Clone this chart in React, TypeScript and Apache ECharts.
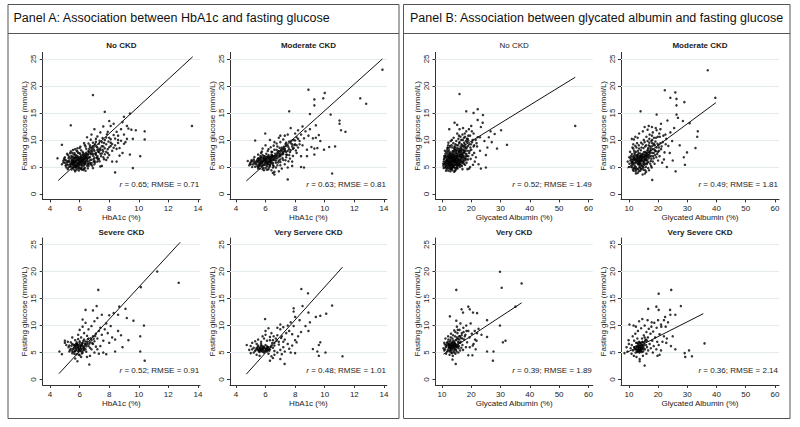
import React, { useEffect, useRef } from 'react';
import * as echarts from 'echarts';

// ---------- DATA ----------
const subTitles = ['No CKD', 'Moderate CKD', 'Severe CKD', 'Very Servere CKD', 'No CKD', 'Moderate CKD', 'Very CKD', 'Very Severe CKD'];
const rValues = ['0.65', '0.63', '0.52', '0.48', '0.52', '0.49', '0.39', '0.36'];
const rmseValues = ['0.71', '0.81', '0.91', '1.01', '1.49', '1.81', '1.89', '2.14'];
const panelTitles = ['Panel A: Association between HbA1c and fasting glucose', 'Panel B: Association between glycated albumin and fasting glucose'];
const hbTicks = [4, 6, 8, 10, 12, 14];
const gaTicks = [10, 20, 30, 40, 50, 60];
const fgTicks = [0, 5, 10, 15, 20, 25];
const gridYs = [5, 10, 15, 20, 25];
const xNames = ['HbA1c (%)', 'Glycated Albumin (%)'];
const yName = 'Fasting glucose (mmol/L)';

const hbNoCkd: number[][] = [
  [5.4,5.2],[5.5,5.6],[5.6,6.0],[5.7,5.4],[5.8,6.3],[5.9,5.8],[6.0,6.1],[6.1,5.5],[6.2,6.6],[6.3,6.0],[5.5,6.4],[5.6,5.1],[5.7,6.7],[5.8,5.0],[5.9,6.9],[6.0,5.3],[6.1,7.0],[6.2,5.7],[6.3,6.8],[6.4,6.2],
  [5.3,5.9],[5.4,6.6],[5.5,4.9],[5.6,6.8],[5.7,5.9],[5.8,7.1],[5.9,5.2],[6.0,6.7],[6.1,6.3],[6.2,5.1],[6.3,7.3],[6.4,5.6],[6.5,6.9],[6.5,6.4],[6.6,7.4],[5.2,5.4],[5.1,6.2],[5.3,6.9],[5.6,7.3],[5.9,7.6],
  [6.0,4.7],[6.2,7.8],[6.4,7.0],[6.6,6.0],[6.7,7.7],[5.0,5.8],[5.2,4.6],[5.8,4.5],[6.1,4.9],[6.3,5.3],[5.65,5.75],[5.85,5.65],[6.05,5.9],[5.75,6.15],[5.95,6.45],[6.15,6.05],[5.55,6.1],[6.25,6.3],[5.45,5.8],[6.35,6.55],
  [6.6,8.0],[6.7,6.8],[6.8,7.5],[6.8,8.4],[6.9,7.1],[7.0,8.0],[7.0,9.0],[7.1,7.6],[7.2,8.6],[7.2,7.0],[7.3,9.3],[7.4,8.1],[7.5,9.6],[7.5,7.5],[7.6,8.8],[7.7,10.0],[7.8,9.2],[7.9,8.3],[8.0,10.4],[8.1,9.5],
  [6.9,9.5],[7.1,10.2],[6.7,9.0],[7.3,6.5],[7.6,6.8],[8.2,8.0],[8.3,10.9],[8.4,9.0],[8.5,11.5],[8.6,10.0],[8.8,12.0],[8.7,8.5],[9.0,11.0],[9.1,9.6],[8.9,7.6],[7.0,12.0],[7.4,11.4],[6.8,11.0],[6.5,10.5],[6.4,8.8],
  [6.3,9.4],[6.0,8.5],[5.8,8.0],[5.5,7.6],[5.2,7.2],[5.0,6.8],[4.9,6.2],[4.8,5.5],[5.1,4.9],[6.6,5.2],[6.8,5.7],[7.0,5.5],[7.2,6.0],[7.5,5.2],[6.9,4.8],[6.4,4.3],[5.7,4.2],[7.8,6.3],[8.0,7.2],[8.2,6.0],
  [6.9,18.3],[7.7,15.2],[5.4,12.7],[13.6,12.6],[9.4,14.9],[9.0,14.3],[10.4,11.6],[10.4,10.1],[10.1,7.0],[9.6,4.8],[8.4,4.0],[4.8,9.1],[4.5,6.6],[7.4,5.1],[8.1,12.6],[9.2,12.6],[9.5,11.9],[9.6,10.2],[9.2,10.2],[8.6,10.8],
  [8.9,13.3],[9.0,9.3],[8.7,7.1],[9.4,7.3],[8.5,6.0],[8.3,13.0],[9.3,12.1],[9.8,11.8],[8.0,13.5],[7.6,12.5],[7.9,11.5]
];
const hbNoCkdCore: number[][] = [
  [5.35,5.45],[5.45,6.05],[5.55,5.35],[5.65,6.45],[5.75,5.25],[5.85,6.75],[5.95,5.55],[6.05,6.85],[6.15,5.35],[6.25,7.05],[6.35,5.75],[6.45,6.65],[6.55,7.25],[6.65,6.85],[6.75,7.35],[6.85,7.85],[6.95,8.25],[7.05,7.45],[7.15,8.75],[7.25,7.85],
  [5.5,5.75],[5.6,6.55],[5.7,5.05],[5.8,5.75],[5.9,6.15],[6.0,5.65],[6.1,6.55],[6.2,6.25],[6.3,6.45],[6.4,6.85],[6.5,6.05],[6.6,6.65],[6.7,6.25],[6.8,8.05],[6.9,7.45],[7.0,6.75],[7.1,7.25],[7.2,8.15],[7.3,7.75],[7.4,8.45],
  [5.25,6.65],[5.35,5.05],[5.45,7.05],[5.55,4.75],[5.65,7.55],[5.75,4.85],[5.85,7.85],[5.95,4.95],[6.05,7.35],[6.15,4.55],[6.25,7.55],[6.35,4.85],[6.45,7.65],[6.55,5.65],[6.65,8.35],[6.75,5.45],[6.85,8.65],[6.95,6.45],[7.05,9.25],[7.15,6.65],
  [5.15,5.85],[5.05,5.25],[4.95,6.55],[5.15,7.45],[5.4,7.9],[5.7,8.3],[6.1,8.1],[6.45,8.35],[6.7,8.7],[7.35,9.85],[7.55,8.15],[7.65,9.45],[7.8,7.8],[7.95,9.7],[8.1,8.9],[7.45,7.0],[7.7,7.35],[7.25,6.4],[6.95,5.95],[6.6,5.5],
  [5.6,5.5],[5.7,6.1],[5.8,5.3],[5.9,6.4],[6.0,5.95],[6.1,5.85],[6.2,6.45],[6.3,5.55],[6.4,5.95],[6.5,6.6],[5.5,6.2],[5.6,5.7],[5.9,5.45],[6.2,5.9],[6.35,7.0],[6.05,6.35],[5.75,6.9],[5.65,5.95],[6.15,6.75],[6.45,7.2],
  [5.3,6.25],[5.4,5.55],[5.5,6.85],[5.6,4.95],[5.7,7.25],[5.8,6.55],[5.9,4.75],[6.0,7.55],[6.1,4.65],[6.2,7.25],[6.3,4.65],[6.4,7.45],[6.5,5.25],[6.6,7.85],[6.7,5.75],[6.8,6.35],[6.9,8.85],[7.0,6.15],[7.1,9.65],[7.2,6.75],
  [7.3,8.25],[7.4,7.45],[7.5,8.85],[7.6,7.85],[7.7,8.45],[7.8,10.45],[7.9,7.55],[8.0,8.65],[8.1,10.15],[8.2,9.25],[8.3,8.55],[8.4,10.25],[8.5,8.35],[8.6,9.45],[8.8,9.85],[5.2,6.05],[5.1,5.45],[5.0,6.35],[4.9,5.85],[5.25,4.95],
  [5.45,4.55],[5.65,4.45],[5.95,4.35],[6.25,4.45],[6.55,4.75],[6.85,5.25],[7.05,5.85],[7.35,6.05],[7.65,6.45],[7.9,6.75],[6.05,8.75],[6.35,9.05],[6.6,9.35],[5.85,8.45],[5.55,8.15],[5.35,7.55],[6.75,10.05],[7.2,10.65],[7.55,10.35],[7.85,11.05]
];

const hbModerate: number[][] = [
  [5.5,5.9],[5.6,6.3],[5.7,5.6],[5.8,6.0],[5.9,6.6],[6.0,5.8],[6.1,6.2],[6.2,5.5],[6.3,6.9],[6.4,6.1],[5.6,5.2],[5.7,6.8],[5.8,5.4],[5.9,7.0],[6.0,6.4],[6.1,5.1],[6.2,7.2],[6.3,5.9],[6.4,6.6],[6.5,7.0],
  [5.4,6.1],[5.3,5.6],[5.2,6.4],[5.1,5.0],[5.0,5.9],[4.9,5.3],[4.8,6.1],[5.5,7.3],[5.7,7.6],[6.0,4.8],[6.2,4.6],[5.9,4.4],[6.5,5.4],[6.6,6.3],[6.7,7.1],[6.8,6.6],[6.9,7.5],[7.0,7.0],[7.1,8.0],[7.2,7.4],
  [7.3,8.4],[7.4,7.8],[7.5,9.0],[7.6,8.3],[7.7,9.4],[7.8,8.8],[7.9,10.0],[8.0,9.2],[8.1,10.5],[8.2,8.6],[6.6,8.2],[6.8,8.8],[7.0,9.6],[7.2,10.1],[6.4,7.8],[6.2,8.3],[6.0,9.0],[5.8,8.4],[6.5,4.9],[6.8,5.3],
  [7.0,5.9],[7.2,6.3],[7.4,6.8],[7.6,7.2],[7.8,6.0],[7.1,4.7],[6.9,4.2],[6.5,3.9],[6.6,4.1],[7.3,5.5],[7.5,4.9],[7.8,5.2],[8.3,9.8],[8.4,11.0],[8.5,9.0],[8.6,10.3],[8.7,11.6],[8.8,8.2],[8.9,10.8],[9.0,12.0],
  [8.2,11.8],[8.0,11.2],[7.7,12.2],[7.5,11.0],[7.3,10.8],[6.9,10.4],[6.6,9.6],[6.3,10.0],[5.98,11.2],[5.3,9.9],[7.0,6.4],[6.7,5.8],[6.3,5.2],[5.6,4.7],[5.5,5.0],[6.1,6.9],[5.8,7.2],[6.4,7.3],[6.9,6.2],[7.4,9.5],
  [8.1,7.6],[8.4,7.0],[5.65,5.7],[5.85,6.15],[6.05,6.0],[5.75,5.95],[5.95,6.25],[6.15,5.85],[6.25,6.45],[6.35,6.2],[5.55,6.55],[6.45,6.85],
  [13.9,23.0],[8.9,19.3],[10.0,18.7],[9.3,17.5],[9.9,17.7],[9.3,16.4],[12.4,17.7],[12.8,16.7],[7.6,15.3],[9.0,14.8],[10.4,14.7],[11.0,13.6],[11.0,13.0],[11.1,11.8],[11.4,11.5],[9.4,12.7],[9.4,10.4],[9.2,10.3],[9.1,8.7],[9.3,8.4],
  [9.5,8.5],[10.3,8.7],[10.7,8.8],[9.95,8.2],[9.3,7.3],[8.8,7.0],[8.4,5.0],[10.5,3.8],[7.5,2.7],[6.6,3.6],[8.6,4.9],[9.7,9.8],[8.5,12.5],[9.6,10.9]
];
const hbModerateCore: number[][] = [
  [5.35,5.85],[5.45,6.35],[5.55,5.45],[5.65,6.65],[5.75,5.15],[5.85,6.45],[5.95,5.65],[6.05,6.75],[6.15,5.55],[6.25,6.25],[6.35,5.65],[6.45,7.15],[6.55,6.55],[6.65,7.45],[6.75,6.95],[6.85,7.85],[6.95,7.15],[7.05,8.25],[7.15,7.55],[7.25,8.75],
  [5.5,6.1],[5.6,5.6],[5.7,6.4],[5.8,5.8],[5.9,6.2],[6.0,6.0],[6.1,6.5],[6.2,5.9],[6.3,6.6],[6.4,5.8],[6.5,6.3],[6.6,7.0],[6.7,6.6],[6.8,7.2],[6.9,6.9],[7.0,7.8],[7.1,7.3],[7.2,8.3],[7.3,7.9],[7.4,8.9],
  [5.25,6.05],[5.15,5.45],[5.05,6.25],[4.95,5.65],[5.25,6.85],[5.45,5.15],[5.65,7.05],[5.85,4.85],[6.05,7.45],[6.25,4.95],[6.45,7.75],[6.55,5.15],[6.75,8.15],[6.85,5.85],[6.95,8.55],[7.15,6.65],[7.35,9.25],[7.45,7.25],[7.55,8.65],[7.65,7.75],
  [7.75,9.85],[7.85,8.35],[7.95,9.05],[8.05,8.05],[7.35,6.25],[7.55,6.05],[7.65,6.55],[7.85,7.05],[5.75,7.85],[6.15,7.95],[6.35,8.65],[6.55,8.95],[6.75,9.35],[7.0,10.8],[6.2,6.9],[5.95,6.95],[6.05,5.35],[5.6,6.0],[6.3,6.1],[6.4,6.4],
  [5.4,5.5],[5.5,6.6],[5.6,5.25],[5.7,6.05],[5.8,6.75],[5.9,5.35],[6.0,6.5],[6.1,5.75],[6.2,6.7],[6.3,5.4],[6.4,6.95],[6.5,5.75],[6.6,6.75],[6.7,6.2],[6.8,7.6],[6.9,7.95],[7.0,7.35],[7.1,8.6],[7.2,7.8],[7.3,8.15],
  [7.4,7.3],[7.5,8.0],[7.6,9.7],[7.7,8.1],[7.8,9.2],[7.9,8.5],[8.0,9.9],[8.1,9.0],[8.2,10.2],[8.3,9.2],[5.2,5.8],[5.1,6.1],[5.0,5.5],[5.3,5.05],[5.5,4.7],[5.8,4.6],[6.1,4.5],[6.4,4.4],[6.7,4.9],[7.0,5.3]
];

const hbSevere: number[][] = [
  [5.6,5.8],[5.7,6.2],[5.8,5.5],[5.9,6.0],[6.0,6.5],[6.1,5.7],[6.2,6.8],[6.3,6.1],[5.5,6.6],[5.6,5.1],[5.7,5.4],[5.8,6.9],[5.9,5.2],[6.0,7.1],[6.1,6.3],[6.2,5.4],[6.3,7.4],[6.4,6.5],[6.5,7.0],[6.6,6.2],
  [5.4,5.7],[5.3,6.3],[5.2,7.0],[5.1,6.4],[5.0,7.2],[5.0,6.8],[5.3,5.2],[5.5,4.9],[5.8,4.7],[6.0,4.5],[6.2,5.0],[6.4,5.6],[6.6,7.6],[6.7,6.9],[6.8,7.3],[6.9,8.0],[7.0,7.1],[7.1,8.5],[7.2,7.6],[7.3,9.0],
  [6.5,8.1],[6.3,8.6],[6.1,7.8],[5.9,7.5],[5.7,7.3],[6.0,9.2],[6.2,9.8],[6.4,10.5],[6.2,11.1],[6.6,9.3],[6.8,9.9],[7.0,10.8],[7.2,11.4],[7.4,9.6],[7.5,8.3],[7.6,7.2],[7.7,9.3],[7.8,10.4],[7.9,8.6],[8.0,11.9],
  [8.1,9.9],[8.2,7.8],[8.3,12.3],[7.4,6.2],[7.2,5.6],[7.0,5.0],[6.8,5.6],[7.6,5.0],[7.8,4.7],[8.0,6.8],[8.4,7.4],[8.6,9.0],[7.5,12.0],[6.9,12.8],[6.7,4.4],[6.5,4.2],[5.7,3.9],[6.1,4.2],[7.3,4.8],[5.9,8.3],
  [5.5,7.8],[6.9,6.6],[7.1,6.1],[6.0,5.3],[5.8,6.4],[6.3,5.8],[5.75,5.95],[5.95,5.65],[6.05,6.2],[5.85,6.55],[6.15,6.7],[5.65,6.35],
  [7.26,16.6],[11.25,20.0],[12.7,17.9],[10.14,17.1],[7.15,13.6],[8.68,13.5],[9.1,13.1],[9.19,11.4],[9.64,10.9],[10.35,10.0],[10.1,8.0],[10.1,5.2],[10.4,3.5],[8.4,5.2],[6.65,2.8],[5.85,3.4],[4.63,5.2],[4.8,4.7],[6.4,12.9],[8.8,8.2],
  [9.3,7.3],[8.9,6.0],[8.6,12.0]
];
const hbSevereCore: number[][] = [
  [5.55,5.65],[5.65,6.05],[5.75,5.75],[5.85,6.25],[5.95,5.45],[6.05,6.05],[6.15,6.45],[6.25,5.85],[6.35,6.65],[6.45,6.15],[5.6,6.45],[5.7,5.25],[5.8,6.65],[5.9,5.85],[6.0,6.85],[6.1,5.25],[6.2,6.25],[6.3,5.45],[6.4,7.05],[6.5,6.55],
  [5.45,6.25],[5.35,5.45],[5.5,5.3],[5.9,6.35],[6.05,5.75],[5.75,6.55],[6.25,7.15],[6.55,7.45],[6.65,6.65],[6.75,7.65],[6.85,6.75],[6.95,7.55],[7.05,8.05],[6.15,4.85],[5.65,4.75],[5.95,4.65],[6.45,5.15],[6.7,5.9],[5.4,6.9],[5.25,6.0]
];

const hbVerySevere: number[][] = [
  [5.5,5.5],[5.6,5.8],[5.7,5.3],[5.8,5.6],[5.9,5.9],[6.0,5.4],[6.1,5.7],[6.2,6.0],[5.6,5.1],[5.8,6.2],[6.0,6.4],[5.4,5.9],[5.3,5.3],[5.5,6.3],[5.7,6.6],[5.9,5.0],[6.1,5.2],[6.3,5.6],[6.4,6.3],[5.2,5.0],
  [5.1,5.6],[5.0,6.2],[5.1,6.8],[5.3,7.1],[5.5,7.4],[5.7,7.0],[5.9,7.6],[6.1,7.2],[6.3,7.9],[6.0,8.3],[5.8,8.0],[6.0,9.0],[5.97,11.2],[6.2,9.5],[6.4,8.6],[6.5,7.3],[6.6,6.8],[6.7,7.6],[6.8,8.2],[6.9,7.0],
  [7.0,9.3],[7.1,8.0],[7.2,9.7],[7.3,7.4],[7.0,10.2],[6.8,9.6],[7.4,8.6],[7.5,10.0],[7.6,9.0],[7.7,10.6],[7.8,8.4],[7.9,9.9],[8.0,7.3],[7.5,6.6],[7.2,6.0],[7.0,5.5],[6.8,5.0],[6.6,4.6],[6.4,4.3],[6.3,3.5],
  [7.29,2.9],[7.1,4.7],[7.3,5.2],[7.6,5.7],[7.8,6.3],[8.1,6.9],[6.5,5.9],[6.6,5.3],[4.73,6.4],[4.9,5.5],[5.0,4.9],[5.4,4.6],[5.6,4.4],[6.2,4.8],[6.5,4.0],[7.0,3.8],[8.2,8.0],[8.4,8.8],[7.7,5.0],[8.0,4.9],
  [5.65,5.65],[5.85,5.45],[6.05,5.75],[5.75,5.9],[6.15,5.5],
  [8.42,16.76],[8.87,15.96],[10.5,13.7],[8.5,13.6],[7.9,13.2],[7.9,12.6],[10.1,12.2],[9.7,11.8],[9.4,11.6],[8.9,12.4],[9.0,10.6],[8.7,9.9],[8.9,9.0],[9.7,6.9],[9.6,6.4],[9.2,5.65],[9.5,5.2],[9.6,4.4],[10.05,5.0],[11.2,4.3],
  [8.3,11.0],[8.0,11.6]
];
const hbVerySevereCore: number[][] = [
  [5.45,5.65],[5.55,5.25],[5.65,5.95],[5.75,5.45],[5.85,5.85],[5.95,5.25],[6.05,5.55],[6.15,5.95],[6.25,5.35],[5.5,6.05],[5.7,6.25],[5.9,6.05],[6.1,6.15],[5.6,5.45],[5.8,5.15],[6.0,5.7],[6.2,5.55],[5.35,5.55],[6.35,6.05],[5.65,5.65],
  [6.45,6.75],[6.6,6.3],[6.75,7.2],[6.9,6.5],[7.05,7.7],[7.2,7.0],[6.3,7.3],[6.55,8.0],[5.4,6.6],[5.2,5.9]
];

const gaNoCkd: number[][] = [
  [11.0,5.5],[11.5,6.2],[12.0,5.0],[12.0,7.0],[12.3,5.8],[12.5,6.6],[12.8,5.3],[13.0,6.1],[13.0,7.5],[13.2,4.8],[13.4,6.8],[13.5,5.6],[13.7,7.2],[13.8,6.3],[14.0,5.2],[14.0,6.9],[14.2,7.8],[14.3,5.9],[14.5,6.5],[14.6,7.4],
  [14.8,5.5],[15.0,6.2],[15.0,8.0],[15.2,7.0],[15.4,5.8],[15.5,6.7],[15.7,7.6],[15.8,8.4],[16.0,6.4],[16.2,7.3],[16.4,8.8],[16.5,5.9],[16.7,7.9],[17.0,9.0],[17.2,6.8],[17.4,8.2],[17.6,9.5],[18.0,7.5],[18.2,9.8],[18.5,8.6],
  [18.8,10.2],[19.0,7.0],[19.3,9.2],[19.6,10.8],[20.0,8.2],[20.3,9.6],[20.8,11.2],[21.0,7.6],[21.5,10.0],[22.0,8.8],[11.2,7.5],[11.6,4.6],[11.8,8.2],[12.2,4.3],[12.6,8.6],[12.9,4.2],[13.3,9.0],[13.6,4.4],[13.9,9.4],[14.2,4.1],
  [14.4,8.6],[14.7,4.5],[14.9,9.8],[15.3,4.7],[15.6,10.2],[16.1,5.0],[16.3,10.6],[16.8,5.2],[17.0,11.0],[17.5,5.6],[10.6,6.0],[10.8,7.0],[10.5,5.2],[11.3,5.0],[11.9,6.4],[12.4,7.4],[12.7,6.0],[13.1,5.5],[13.3,6.5],[13.6,6.0],
  [13.9,5.8],[14.1,6.6],[14.4,6.0],[14.6,5.7],[14.9,7.0],[15.1,5.3],[15.6,6.1],[16.0,7.1],[16.6,6.6],[17.8,6.2],[18.4,5.8],[19.8,6.5],[21.2,6.0],[22.5,5.5],[12.1,9.0],[13.0,9.8],[14.0,10.4],[15.2,11.2],[16.0,12.0],[17.2,12.2],
  [18.3,11.6],[19.2,12.0],[20.5,10.0],[21.8,9.4],[12.9,6.4],[13.5,6.2],[14.2,6.3],[13.2,5.9],[14.7,6.1],[12.6,5.5],
  [16.0,18.5],[55.5,12.6],[22.2,15.7],[18.3,15.3],[20.8,15.0],[24.0,14.6],[32.2,9.1],[30.2,11.8],[26.6,11.6],[26.0,10.5],[28.0,11.1],[28.8,8.4],[25.0,7.2],[25.0,4.9],[23.3,4.7],[19.3,4.7],[14.5,4.3],[14.3,13.2],[15.2,12.8],[20.0,12.6],
  [23.3,12.4],[23.9,13.2],[22.2,13.7],[24.5,9.8],[23.0,10.5],[25.5,8.6],[27.0,9.6],[12.5,12.0]
];
const gaNoCkdCore: number[][] = [
  [11.2,6.0],[11.4,6.8],[11.6,5.4],[11.8,7.4],[12.0,6.2],[12.2,5.6],[12.4,6.9],[12.6,5.1],[12.8,7.7],[13.0,5.8],[13.2,6.6],[13.4,5.3],[13.6,7.9],[13.8,5.5],[14.0,7.4],[14.2,6.0],[14.4,8.2],[14.6,6.3],[14.8,7.7],[15.0,5.6],
  [15.2,8.5],[15.4,6.4],[15.6,7.1],[15.8,5.6],[16.0,8.0],[16.2,6.1],[16.4,7.5],[16.6,8.4],[16.8,6.8],[17.0,7.6],[17.2,8.8],[17.4,7.0],[17.6,8.0],[17.8,9.2],[18.0,6.6],[18.2,8.4],[18.4,7.4],[18.6,9.6],[18.8,8.0],[19.0,9.9],
  [11.1,4.9],[11.5,5.8],[11.9,4.8],[12.1,7.8],[12.3,6.5],[12.5,4.7],[12.7,7.1],[12.9,4.6],[13.1,7.0],[13.3,4.6],[13.5,7.5],[13.7,4.9],[13.9,8.0],[14.1,5.0],[14.3,8.8],[14.5,5.4],[14.7,8.2],[14.9,4.9],[15.1,7.5],[15.3,5.2],
  [15.5,9.0],[15.7,5.3],[15.9,9.4],[16.1,5.7],[16.3,8.2],[16.5,6.9],[16.7,9.2],[16.9,6.2],[17.1,10.0],[17.3,5.9],[17.5,10.4],[17.7,6.6],[17.9,10.6],[18.1,7.0],[18.5,10.2],[18.9,6.4],[19.5,8.0],[19.9,9.2],[20.4,7.2],[20.8,8.8],
  [10.7,6.4],[10.9,5.5],[11.3,7.0],[11.7,6.1],[12.0,8.5],[12.4,5.4],[12.8,6.6],[13.2,7.3],[13.6,6.7],[14.0,6.1],[14.4,7.0],[14.8,6.6],[15.2,5.9],[15.6,8.0],[16.0,5.4],[16.4,6.4],[16.8,7.3],[17.2,6.0],[17.6,7.8],[18.0,8.8],
  [10.4,5.6],[10.6,4.8],[11.0,8.0],[11.4,4.3],[12.2,9.5],[13.4,10.0],[14.6,9.2],[15.8,10.8],[16.6,10.0],[17.8,11.2],[19.0,10.8],[20.2,11.6],[21.0,9.0],[22.2,10.5],[23.0,8.0],[21.6,6.8],[20.6,5.4],[19.6,5.0],[18.7,4.6],[17.0,4.6],
  [11.6,6.5],[11.9,5.6],[12.1,6.8],[12.4,6.1],[12.6,7.3],[12.9,5.9],[13.1,6.9],[13.4,6.0],[13.6,6.9],[13.9,6.2],[14.1,7.1],[14.3,6.5],[14.6,5.9],[14.8,6.9],[15.1,6.6],[15.3,7.3],[15.6,6.4],[15.8,7.8],[16.1,6.9],[16.3,7.8],
  [16.6,7.2],[16.8,8.2],[17.1,7.2],[17.4,7.6],[17.7,8.6],[18.1,8.0],[18.5,7.0],[18.9,8.9],[19.3,7.6],[19.7,8.6],[11.0,5.8],[11.4,5.2],[11.8,5.9],[12.1,5.3],[12.5,5.9],[12.8,4.9],[13.2,5.2],[13.5,4.9],[13.8,5.1],[14.2,5.3],
  [14.5,4.8],[14.9,5.8],[15.2,4.9],[15.6,5.4],[16.0,6.0],[16.4,5.3],[16.9,5.7],[17.3,6.4],[17.9,5.4],[18.3,6.4],[10.8,6.6],[11.1,7.1],[11.5,7.8],[11.9,8.6],[12.4,8.1],[12.8,8.9],[13.5,8.6],[14.2,8.4],[15.0,9.0],[16.0,9.6]
];

const gaModerate: number[][] = [
  [11.2,5.8],[11.6,6.5],[12.0,5.2],[12.2,7.3],[12.5,6.0],[12.7,4.7],[12.9,6.8],[13.1,5.5],[13.3,7.6],[13.5,6.3],[13.6,4.9],[13.8,7.0],[14.0,5.7],[14.1,8.1],[14.3,6.6],[14.5,5.2],[14.6,7.4],[14.8,6.0],[15.0,8.5],[15.2,6.9],
  [15.3,5.4],[15.5,7.8],[15.7,6.3],[15.9,9.0],[16.1,7.2],[16.3,5.8],[16.5,8.2],[16.8,6.6],[17.0,9.5],[17.2,7.6],[17.5,6.1],[17.8,8.8],[18.0,10.0],[18.3,7.0],[18.6,9.3],[19.0,8.0],[19.3,10.4],[19.7,7.4],[20.1,9.0],[20.6,10.6],
  [21.0,8.3],[21.6,9.6],[22.2,7.7],[22.8,10.2],[23.5,8.9],[10.8,5.0],[10.6,6.6],[11.0,7.4],[11.4,4.5],[11.8,8.0],[12.3,4.2],[12.6,8.6],[13.0,3.9],[13.4,9.0],[13.9,4.3],[14.2,9.5],[14.7,3.6],[15.1,10.0],[15.6,4.4],[16.0,10.6],
  [16.6,4.8],[17.1,11.0],[17.6,5.2],[18.2,11.4],[18.8,5.6],[19.5,11.8],[20.0,6.2],[12.0,6.4],[12.8,7.2],[13.2,6.0],[13.7,5.6],[14.0,6.9],[14.4,6.2],[14.9,5.6],[15.4,6.5],[15.8,5.0],[16.2,6.8],[16.9,7.8],[17.4,8.4],[18.5,6.6],
  [19.4,6.8],[20.5,7.0],[21.4,5.8],[22.0,6.4],[23.0,5.0],[11.0,10.2],[12.2,10.6],[13.5,11.2],[14.8,11.6],[16.4,11.9],[17.9,12.4],[20.8,12.0],[22.5,11.0],[9.6,6.0],[10.2,5.6],[10.4,7.8],[11.5,9.2],[13.0,6.6],[13.8,6.2],[14.5,6.7],
  [37.0,22.9],[39.6,17.8],[22.3,19.2],[25.9,18.8],[24.2,17.8],[26.3,17.6],[29.0,17.0],[26.3,16.4],[14.0,15.3],[19.5,14.7],[26.3,14.7],[26.8,14.1],[28.5,13.5],[30.8,13.1],[33.6,11.6],[33.4,10.6],[32.8,8.5],[29.9,7.7],[28.8,6.8],[29.2,5.4],
  [26.0,4.2],[18.0,2.6],[15.5,3.8],[11.7,10.1],[24.2,11.4],[24.8,9.8],[25.5,12.2],[27.4,9.0],[24.0,7.6],[25.0,6.2],[21.0,13.0],[23.2,13.6]
];
const gaModerateCore: number[][] = [
  [11.0,6.0],[11.3,6.9],[11.6,5.5],[11.9,7.6],[12.1,6.2],[12.4,5.0],[12.6,7.0],[12.9,5.8],[13.1,8.0],[13.4,6.6],[13.6,5.3],[13.9,7.5],[14.1,6.1],[14.3,8.6],[14.6,6.8],[14.8,5.1],[15.1,7.7],[15.3,6.4],[15.6,8.8],[15.8,7.1],
  [16.1,5.5],[16.3,8.0],[16.6,7.3],[16.8,9.0],[17.1,6.9],[17.4,8.1],[17.7,9.8],[18.0,7.6],[18.4,9.0],[18.8,8.2],[19.1,9.7],[19.5,8.6],[19.9,10.6],[20.3,8.0],[20.8,9.4],[10.7,7.0],[11.1,5.3],[11.5,8.4],[11.8,4.8],[12.2,8.9],
  [12.5,4.5],[12.8,9.4],[13.2,4.6],[13.5,8.4],[13.8,5.0],[14.2,7.2],[14.4,4.7],[14.7,9.2],[15.0,4.9],[15.4,9.6],[15.7,5.6],[16.0,6.2],[16.4,9.8],[16.7,5.9],[17.0,10.2],[17.3,5.6],[17.6,7.0],[17.9,10.8],[18.2,6.0],[18.6,10.4],
  [12.0,6.8],[12.7,6.2],[13.0,7.0],[13.3,5.6],[13.7,6.9],[14.0,6.4],[14.5,7.0],[15.2,6.1],[15.5,7.3],[15.9,6.6],[16.5,7.0],[12.4,7.8],[11.4,6.3],[10.9,6.4],[11.7,7.1],[13.6,6.0],[14.9,6.8],[16.2,7.6],[17.2,8.8],[18.0,9.4],
  [19.0,7.2],[20.0,7.8],[21.2,8.8],[22.6,9.2],[21.8,10.8],[20.4,11.2],[19.2,12.2],[16.8,12.6],[15.4,12.4],[13.0,10.4],
  [11.4,5.9],[11.8,6.6],[12.2,5.7],[12.5,6.5],[12.9,6.3],[13.2,7.3],[13.5,5.9],[13.9,6.7],[14.2,5.4],[14.6,6.4],[14.9,7.3],[15.2,5.8],[15.6,6.9],[15.9,7.6],[16.3,6.3],[16.6,8.5],[17.0,7.3],[17.3,7.9],[17.7,6.5],[18.1,8.3],
  [18.5,7.6],[18.9,9.0],[19.3,7.9],[19.8,9.3],[20.3,8.6],[10.9,5.7],[11.2,4.9],[11.6,4.3],[12.0,4.7],[12.4,3.8],[13.4,4.2],[14.1,4.6],[15.0,4.5],[15.9,4.1],[16.9,4.4],[17.8,4.9],[10.5,6.2],[10.1,6.8],[10.0,5.0],[11.2,8.6]
];

const gaVery: number[][] = [
  [11.0,5.6],[11.5,6.4],[11.8,5.2],[12.0,7.0],[12.3,5.9],[12.5,6.6],[12.7,5.4],[12.9,7.3],[13.0,6.1],[13.2,5.0],[13.4,6.8],[13.5,5.7],[13.6,7.6],[13.8,6.3],[14.0,5.3],[14.1,7.0],[14.3,6.0],[14.5,8.0],[14.6,6.6],[14.8,5.5],
  [15.0,7.4],[15.2,6.2],[15.3,8.6],[15.5,7.0],[15.7,5.8],[15.9,8.0],[16.0,9.2],[16.2,6.8],[16.5,7.7],[16.8,8.6],[17.0,6.4],[17.3,9.6],[17.6,7.4],[18.0,8.3],[18.3,10.0],[18.6,6.9],[19.0,9.0],[19.4,7.8],[19.8,10.4],[20.2,8.5],
  [10.5,5.8],[10.8,6.8],[11.2,7.6],[11.4,4.8],[12.1,8.0],[12.6,4.6],[13.1,8.5],[13.7,4.4],[14.2,9.1],[14.6,4.8],[15.1,9.8],[15.6,5.0],[16.3,10.4],[17.2,5.5],[12.4,6.2],[12.8,6.4],[13.3,6.2],[13.9,6.7],[14.4,6.3],[14.9,6.0],
  [15.4,6.5],[16.6,5.9],[18.2,6.0],[20.5,6.3],[21.3,7.4],[22.0,8.6],[19.5,6.0],[13.1,5.8],[13.6,6.5],[12.2,6.5],[14.2,5.7],
  [29.8,19.95],[37.2,17.8],[30.4,17.0],[14.9,16.6],[35.1,13.5],[19.0,13.5],[19.5,13.0],[16.7,13.0],[17.2,12.4],[20.6,12.4],[22.0,12.3],[25.4,11.0],[29.8,10.0],[25.4,7.9],[31.7,7.2],[30.8,6.9],[25.4,5.2],[27.6,5.2],[27.4,3.5],[19.0,4.5],
  [20.4,4.5],[14.7,2.9],[13.6,3.7],[12.7,11.7],[14.9,10.9],[21.2,9.0],[22.5,9.4],[23.5,8.3],[21.8,7.2],[20.8,6.6],[21.5,5.6]
];
const gaVeryCore: number[][] = [
  [11.3,6.0],[11.7,6.8],[12.0,5.5],[12.2,6.6],[12.5,5.9],[12.7,7.0],[12.9,5.6],[13.1,6.6],[13.3,5.4],[13.5,6.9],[13.7,5.9],[13.9,7.2],[14.1,6.2],[14.3,6.8],[14.5,5.6],[14.7,7.3],[14.9,6.4],[15.1,7.8],[15.3,6.0],[15.5,7.6],
  [15.7,6.8],[15.9,7.4],[16.1,8.0],[16.4,7.0],[16.7,8.2],[17.0,7.6],[17.4,8.8],[17.8,8.0],[18.4,9.0],[12.2,7.4],[12.6,5.2],[13.0,7.8],[13.4,4.9],[13.8,8.2],[14.2,5.0],[14.6,8.8],[15.0,5.2],[15.4,9.2],[15.8,6.2],[16.2,5.4],
  [13.2,6.1],[13.6,6.4],[14.0,6.0],[14.4,6.6],[14.8,6.2],[12.4,6.3],[12.8,6.0],[11.6,6.2],[11.0,6.5],[10.8,5.4]
];

const gaVerySevere: number[][] = [
  [11.0,6.4],[11.4,5.4],[11.8,7.2],[12.0,6.0],[12.3,5.0],[12.5,6.8],[12.7,5.6],[12.9,7.6],[13.0,5.2],[13.2,6.3],[13.3,5.5],[13.5,7.0],[13.6,5.0],[13.8,6.0],[14.0,5.4],[14.1,6.8],[14.3,5.8],[14.5,7.6],[14.7,6.4],[14.9,5.2],
  [15.1,8.2],[15.3,6.9],[15.5,5.6],[15.8,7.4],[16.0,8.8],[16.2,6.0],[16.5,7.8],[16.8,9.4],[17.1,6.6],[17.4,8.5],[17.7,9.8],[18.0,7.2],[18.3,8.9],[18.7,10.5],[19.0,7.8],[19.5,9.6],[20.0,11.0],[20.5,8.4],[21.0,10.2],[21.5,7.0],
  [10.6,5.8],[10.9,4.8],[11.3,8.0],[11.7,4.4],[12.2,8.5],[12.6,4.2],[13.1,9.0],[13.7,3.8],[14.2,9.5],[14.8,4.4],[15.4,10.0],[16.0,4.8],[16.6,5.4],[17.5,5.8],[18.5,6.2],[19.4,5.6],[20.2,6.4],[13.4,6.1],[13.9,5.6],[12.8,6.0],
  [14.4,6.5],[15.0,6.0],[15.9,6.4],[9.5,5.2],[9.2,6.0],[10.0,6.6],[12.4,9.8],[11.6,10.0],[13.5,10.8],[14.6,11.2],[16.4,11.0],[17.8,10.6],[22.0,8.0],[22.8,6.8],[19.7,7.0],
  [24.5,16.6],[20.2,15.9],[27.8,13.6],[19.4,13.5],[20.2,12.9],[16.6,13.1],[24.1,12.9],[25.9,12.0],[22.4,11.6],[24.2,12.0],[23.4,10.6],[21.1,9.8],[22.6,9.8],[35.9,6.7],[30.6,5.4],[29.1,4.9],[29.3,4.2],[31.6,4.3],[25.9,5.6],[24.4,6.2],
  [15.4,2.6],[13.7,3.4],[10.2,10.2],[9.9,7.3],[8.5,4.9],[18.2,5.0],[19.8,4.4],[21.0,5.4],[20.5,4.6],[23.0,7.6],[25.0,8.0],[22.0,11.0]
];
const gaVerySevereCore: number[][] = [
  [12.4,5.6],[12.6,6.2],[12.9,5.4],[13.1,6.0],[13.3,5.8],[13.5,5.4],[13.7,6.3],[13.9,5.2],[14.1,6.0],[14.3,5.5],[14.5,6.2],[14.7,5.8],[12.8,5.1],[13.2,6.6],[13.6,5.7],[14.0,6.5],[14.4,5.1],[14.8,6.9],[15.2,6.4],[15.6,7.2],
  [11.8,6.0],[12.1,5.6],[13.0,6.8],[13.4,5.2],[13.8,6.8],[14.2,5.6],[14.6,7.0],[15.0,5.6],[15.4,7.8],[16.2,7.2]
];

const fitLines: number[][][] = [
  [[4.55, 2.5], [13.65, 25.4]],
  [[4.7, 2.4], [13.9, 25.0]],
  [[4.6, 1.1], [12.8, 25.4]],
  [[4.7, 1.0], [11.2, 20.8]],
  [[10.5, 6.6], [55.5, 21.6]],
  [[9.5, 4.8], [39.8, 16.9]],
  [[10.5, 4.7], [37.2, 14.2]],
  [[9.2, 5.0], [35.5, 12.2]],
];

const scatterData = [
  hbNoCkd.concat(hbNoCkdCore),
  hbModerate.concat(hbModerateCore),
  hbSevere.concat(hbSevereCore),
  hbVerySevere.concat(hbVerySevereCore),
  gaNoCkd.concat(gaNoCkdCore),
  gaModerate.concat(gaModerateCore),
  gaVery.concat(gaVeryCore),
  gaVerySevere.concat(gaVerySevereCore),
];

// ---------- LAYOUT ----------
const FONT = '"Liberation Sans", Arial, Helvetica, sans-serif';
const ROW_TOP = [52.4, 238];
const PLOT_H = 147;
const layouts = [
  { left: 42.7, width: 157.4, xMin: 3.5, xMax: 14.15, row: 0, ga: false },
  { left: 230, width: 156.9, xMin: 3.6, xMax: 14.2, row: 0, ga: false },
  { left: 42.7, width: 157.4, xMin: 3.5, xMax: 14.15, row: 1, ga: false },
  { left: 230, width: 156.9, xMin: 3.6, xMax: 14.2, row: 1, ga: false },
  { left: 435.5, width: 157.3, xMin: 7.8, xMax: 61.5, row: 0, ga: true },
  { left: 621, width: 158, xMin: 7.3, xMax: 61.4, row: 0, ga: true },
  { left: 435.5, width: 157.3, xMin: 7.8, xMax: 61.5, row: 1, ga: true },
  { left: 621, width: 158, xMin: 7.3, xMax: 61.4, row: 1, ga: true },
];

function buildOption() {
  const axisColor = '#333';
  const textColor = '#222';
  const grid: any[] = [];
  const xAxis: any[] = [];
  const yAxis: any[] = [];
  const series: any[] = [];
  const graphic: any[] = [];

  layouts.forEach((l, i) => {
    const top = ROW_TOP[l.row];
    grid.push({ left: l.left, top, width: l.width, height: PLOT_H, containLabel: false });
    const xt = l.ga ? gaTicks : hbTicks;
    xAxis.push({
      gridIndex: i, type: 'value', min: l.xMin, max: l.xMax,
      axisLine: { show: true, onZero: false, lineStyle: { color: axisColor, width: 1 } },
      axisTick: { show: true, length: 3, customValues: xt, lineStyle: { color: axisColor } },
      axisLabel: { customValues: xt, fontSize: 8, fontFamily: FONT, color: textColor, margin: 5 },
      splitLine: { show: false },
      name: l.ga ? xNames[1] : xNames[0], nameLocation: 'middle', nameGap: 14.5,
      nameTextStyle: { fontSize: 8, fontFamily: FONT, color: textColor },
    });
    yAxis.push({
      gridIndex: i, type: 'value', min: -1, max: 26.2,
      axisLine: { show: true, onZero: false, lineStyle: { color: axisColor, width: 1 } },
      axisTick: { show: true, length: 3, customValues: fgTicks, lineStyle: { color: axisColor } },
      axisLabel: { customValues: fgTicks, rotate: 90, fontSize: 8, fontFamily: FONT, color: textColor, margin: 5 },
      splitLine: { show: false },
      name: yName, nameLocation: 'middle', nameGap: 13.5,
      nameTextStyle: { fontSize: 8, fontFamily: FONT, color: textColor },
    });
    series.push({
      type: 'scatter', xAxisIndex: i, yAxisIndex: i, data: scatterData[i],
      symbol: 'circle', symbolSize: 2.5, itemStyle: { color: '#000' }, z: 2, silent: true,
      markLine: {
        silent: true, symbol: 'none', z: 1, label: { show: false },
        lineStyle: { color: '#e3ebef', width: 1, type: 'solid' },
        data: gridYs.map((v) => ({ yAxis: v })),
      },
    });
    series.push({
      type: 'line', xAxisIndex: i, yAxisIndex: i, data: fitLines[i], symbol: 'none',
      lineStyle: { color: '#111', width: 1 }, z: 3, silent: true,
    });
    const cx = l.left + l.width / 2;
    const ty = l.row === 0 ? 45 : 232.5;
    graphic.push({
      type: 'text', x: cx, y: ty, silent: true,
      style: {
        text: subTitles[i], font: `${i === 4 ? 'normal' : 'bold'} 8px ${FONT}`, fill: textColor,
        align: 'center', verticalAlign: 'middle', textAlign: 'center', textVerticalAlign: 'middle',
      },
    });
    const ay = l.row === 0 ? 184.5 : 370;
    graphic.push({
      type: 'text', x: l.left + l.width - 1, y: ay, silent: true,
      style: {
        text: `{i|r} = ${rValues[i]}; RMSE = ${rmseValues[i]}`, font: `8px ${FONT}`, fill: textColor,
        align: 'right', verticalAlign: 'middle', textAlign: 'right', textVerticalAlign: 'middle',
        rich: { i: { fontStyle: 'italic', fontSize: 8, fontFamily: FONT, fill: textColor } },
      },
    });
  });

  const boxes = [
    { x: 8, w: 391, tx: 13.5 },
    { x: 403.5, w: 386.5, tx: 410 },
  ];
  boxes.forEach((b, k) => {
    graphic.push({
      type: 'rect', silent: true, shape: { x: b.x, y: 4.5, width: b.w, height: 414 },
      style: { fill: 'none', stroke: '#555', lineWidth: 1 },
    });
    graphic.push({
      type: 'line', silent: true, shape: { x1: b.x, y1: 33.5, x2: b.x + b.w, y2: 33.5 },
      style: { stroke: '#555', lineWidth: 1 },
    });
    graphic.push({
      type: 'text', x: b.tx, y: 18, silent: true,
      style: {
        text: panelTitles[k], font: `12.5px ${FONT}`, fill: '#111',
        align: 'left', verticalAlign: 'middle', textAlign: 'left', textVerticalAlign: 'middle',
      },
    });
  });

  return {
    animation: false,
    backgroundColor: '#fff',
    grid, xAxis, yAxis, series, graphic,
  };
}

export default function App() {
  const ref = useRef<HTMLDivElement>(null);
  useEffect(() => {
    const chart = echarts.init(ref.current!, null, { renderer: 'svg' });
    chart.setOption(buildOption() as any);
    return () => chart.dispose();
  }, []);
  return <div ref={ref} style={{ position: 'fixed', left: 0, top: 0, width: 800, height: 427, background: '#fff' }} />;
}
